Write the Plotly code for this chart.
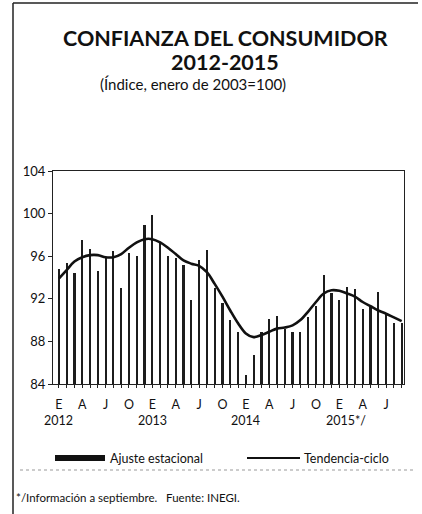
import plotly.graph_objects as go

# monthly data, Jan 2012 - Sep 2015
meses = ["E", "F", "M", "A", "M", "J", "J", "A", "S", "O", "N", "D"]
anios = ["2012", "2013", "2014", "2015*/"]

ajuste = [94.8, 95.4, 94.4, 97.5, 96.7, 94.6, 95.9, 96.5, 93.0, 96.3, 96.0, 98.9,
          99.9, 97.3, 96.0, 95.8, 95.2, 91.9, 95.6, 96.6, 93.0, 91.6, 90.0, 88.9,
          84.8, 86.7, 88.9, 90.1, 90.4, 89.2, 88.9, 88.9, 90.3, 91.3, 94.2, 92.5,
          91.9, 93.1, 92.9, 91.0, 91.3, 92.6, 90.6, 89.7, 89.7]

tendencia = [93.9, 94.7, 95.5, 95.9, 96.1, 96.1, 95.9, 95.9, 96.2, 96.8, 97.3, 97.6,
             97.6, 97.3, 96.8, 96.2, 95.6, 95.3, 95.1, 94.5, 93.4, 92.2, 90.9, 89.7,
             88.75, 88.4, 88.6, 88.9, 89.2, 89.3, 89.5, 90.0, 90.8, 91.7, 92.5, 92.8,
             92.75, 92.5, 92.2, 91.7, 91.3, 90.9, 90.6, 90.25, 89.9]

x = list(range(len(ajuste)))
tick_text = []
for i in x:
    m = meses[i % 12]
    tick_text.append(m if i % 3 == 0 else "")

FONT = "Lato"

fig = go.Figure()
fig.add_trace(go.Bar(x=x, y=[v - 84 for v in ajuste], base=84, width=0.28,
                     marker_color="#1c1c1c", marker_line_width=0, showlegend=False))
fig.add_trace(go.Scatter(x=x, y=tendencia, mode="lines", line_shape="spline",
                         line=dict(color="#111111", width=2.6), showlegend=False))

fig.update_layout(
    width=422, height=514,
    margin=dict(l=53, r=18, t=171, b=130),
    paper_bgcolor="white", plot_bgcolor="white",
    font=dict(family=FONT, color="#111111", size=12),
    bargap=0,
)
fig.update_xaxes(range=[-0.75, 44.3], tickvals=x, ticktext=tick_text,
                 ticks="outside", ticklen=3, tickcolor="#222", tickwidth=1,
                 ticklabelstandoff=6,
                 showline=True, linecolor="#222", linewidth=1, mirror=True,
                 showgrid=False, zeroline=False, tickfont=dict(size=12.5))
fig.update_yaxes(range=[84, 104], tickvals=[84, 88, 92, 96, 100, 104],
                 ticks="outside", ticklen=4, tickcolor="#222",
                 showline=True, linecolor="#222", linewidth=1, mirror=True,
                 showgrid=False, zeroline=False, tickfont=dict(size=13))

def py(p):
    # pixel row -> paper y
    return (384 - p) / 213

def px(p):
    return (p - 53) / 351

ann = [
    dict(text="<b>CONFIANZA DEL CONSUMIDOR</b>", x=px(225), y=py(38), size=21.5),
    dict(text="<b>2012-2015</b>", x=px(225), y=py(62), size=21.5),
    dict(text="(Índice, enero de 2003=100)", x=px(193), y=py(84), size=15),
]
for a in ann:
    fig.add_annotation(text=a["text"], x=a["x"], y=a["y"], xref="paper", yref="paper",
                       showarrow=False, xanchor="center", yanchor="middle",
                       font=dict(size=a["size"], family=FONT, color="#111"))

for k, anio in enumerate(anios):
    fig.add_annotation(text=anio, x=12 * k + (0.9 if k == 3 else 0), y=py(420), xref="x", yref="paper",
                       showarrow=False, xanchor="center", yanchor="middle",
                       font=dict(size=12.5, family=FONT, color="#111"))

# custom legend
fig.add_shape(type="rect", xref="paper", yref="paper", x0=px(55), x1=px(105),
              y0=py(461), y1=py(455), fillcolor="#111", line_width=0)
fig.add_annotation(text="Ajuste estacional", x=px(108), y=py(458), xref="paper", yref="paper",
                   showarrow=False, xanchor="left", yanchor="middle",
                   font=dict(size=12.5, family=FONT, color="#111"))
fig.add_shape(type="line", xref="paper", yref="paper", x0=px(247), x1=px(300),
              y0=py(458), y1=py(458), line=dict(color="#111", width=2))
fig.add_annotation(text="Tendencia-ciclo", x=px(302), y=py(458), xref="paper", yref="paper",
                   showarrow=False, xanchor="left", yanchor="middle",
                   font=dict(size=12.5, family=FONT, color="#111"))

fig.add_annotation(text="*/Información a septiembre.   Fuente: INEGI.", x=px(14), y=py(497),
                   xref="paper", yref="paper", showarrow=False, xanchor="left", yanchor="middle",
                   font=dict(size=11.5, family=FONT, color="#111"))

# page frame
fig.add_shape(type="line", xref="paper", yref="paper", x0=px(13), x1=px(13),
              y0=py(3), y1=py(514), line=dict(color="#222", width=1.5))
fig.add_shape(type="line", xref="paper", yref="paper", x0=px(13), x1=px(418),
              y0=py(3), y1=py(3), line=dict(color="#222", width=1.5))
fig.add_shape(type="line", xref="paper", yref="paper", x0=px(20), x1=px(415),
              y0=py(470), y1=py(470), line=dict(color="#999", width=1, dash="dot"))

fig.write_html("out.html", config={"displayModeBar": False},
               post_script="document.body.style.margin='0';")
